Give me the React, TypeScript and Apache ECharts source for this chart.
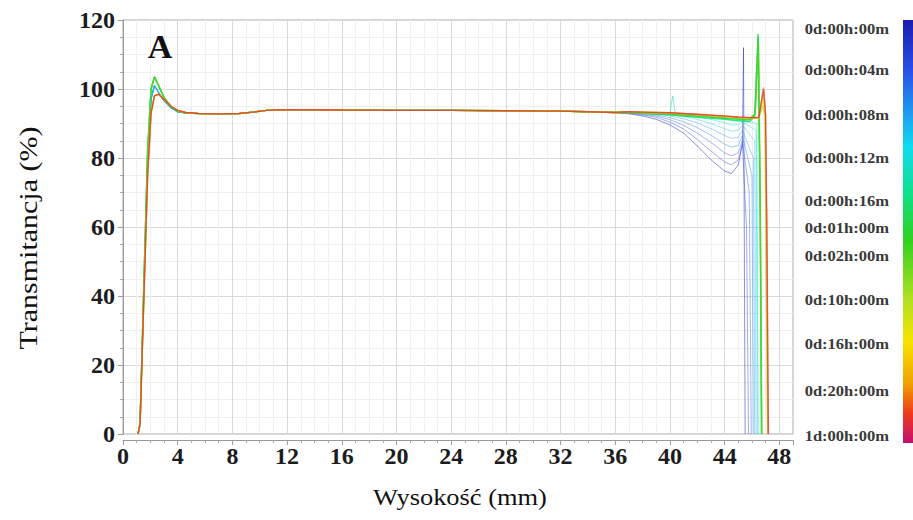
import React, { useEffect, useRef } from "react";
import * as echarts from "echarts";

// Shared rising edge and peak near the cell bottom (mm)
const headX = [1.1, 1.25, 1.5, 1.8, 2.05, 2.3, 2.6, 3.0, 3.5, 4.0, 4.6];
const headEarly = [0, 3, 38, 78, 97, 101, 99, 96.5, 94.5, 93.4, 93];
const headMid = [0, 3, 40, 82, 100, 103.5, 101, 97.5, 95, 93.6, 93];
const headLate = [0, 3, 36, 75, 93, 98, 98.5, 97, 95, 93.8, 93.2];

// Plateau common to all scans
const bodyX = [5.5, 7, 8.5, 9.5, 10.5, 11.5, 13, 16, 20, 24, 28, 32, 34, 36];
const bodyY = [92.9, 92.8, 92.9, 93.3, 93.8, 94.0, 94.0, 93.9, 93.8, 93.8, 93.7, 93.6, 93.4, 93.2];

// Top of the sample: clarification dip and meniscus, one list per scan [mm, %]
const tail00m: [number, number][] = [[37, 92.8], [38, 92.2], [39, 91.2], [40, 89.6], [41, 87.2], [42, 83.5], [43, 79.5], [44, 76.2], [44.5, 75.5], [45.0, 78], [45.3, 84], [45.38, 112], [45.5, 0]];
const tail02m: [number, number][] = [[37, 93], [38, 92.5], [39, 91.8], [40, 90.4], [41, 88.4], [42, 85.4], [43, 82], [44, 78.8], [44.5, 78], [45.0, 79.5], [45.3, 84], [45.6, 60], [45.75, 0]];
const tail04m: [number, number][] = [[37, 93], [38, 92.7], [39, 92.2], [40, 91.1], [41, 89.5], [42, 87.2], [43, 84.5], [44, 81.5], [44.5, 80.6], [45.0, 81.5], [45.3, 85], [45.8, 70], [45.95, 0]];
const tail06m: [number, number][] = [[37, 93.1], [38, 92.9], [39, 92.5], [40, 91.7], [41, 90.5], [42, 88.8], [43, 86.6], [44, 84], [44.5, 83.2], [45.0, 83.6], [45.3, 86.5], [46.0, 75], [46.1, 0]];
const tail08m: [number, number][] = [[37, 93.1], [38, 93], [39, 92.7], [40, 92.2], [41, 91.4], [42, 90.2], [43, 88.5], [44, 86.5], [44.5, 85.7], [45.0, 86], [45.3, 88], [46.1, 80], [46.2, 0]];
const tail10m: [number, number][] = [[37, 93.2], [38, 93.1], [39, 92.9], [40, 92.6], [41, 92.0], [42, 91.2], [43, 90], [44, 88.5], [44.5, 87.8], [45.0, 88], [45.3, 89.5], [46.2, 85], [46.3, 0]];
const tail12m: [number, number][] = [[37, 93.2], [38, 93.2], [39, 93], [40, 92.8], [41, 92.5], [42, 92], [43, 91.2], [44, 90.2], [44.5, 89.6], [45.0, 89.6], [45.3, 90.5], [46.3, 88], [46.4, 0]];
const tail14m: [number, number][] = [[37, 93.3], [38, 93.2], [39, 93.1], [40, 93], [40.2, 98], [40.4, 92.9], [41, 92.8], [42, 92.5], [43, 92], [44, 91.4], [44.5, 91], [45.0, 90.8], [45.3, 91], [46.35, 90], [46.45, 0]];
const tail16m: [number, number][] = [[37, 93.1], [38, 92.9], [40, 92.5], [42, 91.8], [44, 91.2], [45, 90.8], [45.8, 90.5], [46.2, 92], [46.45, 115], [46.6, 60], [46.7, 0]];
const tail1h: [number, number][] = [[37, 93.2], [38, 93], [40, 92.6], [42, 92.1], [44, 91.5], [45, 91.2], [45.8, 91], [46.2, 92.5], [46.45, 116], [46.6, 70], [46.7, 0]];
const tail2h: [number, number][] = [[37, 93.2], [38, 93.1], [40, 92.8], [42, 92.3], [44, 91.7], [45, 91.4], [45.8, 91.2], [46.25, 93], [46.48, 113], [46.62, 60], [46.72, 0]];
const tail6h: [number, number][] = [[37, 93.3], [38, 93.2], [40, 93], [42, 92.5], [44, 92], [45, 91.7], [46, 91.5], [46.5, 91.5], [46.8, 95], [46.95, 92], [47.05, 40], [47.15, 0]];
const tail10h: [number, number][] = [[37, 93.3], [38, 93.2], [40, 93], [42, 92.5], [44, 92], [45, 91.7], [46, 91.5], [46.5, 91.6], [46.8, 97], [46.95, 92], [47.05, 50], [47.15, 0]];
const tail16h: [number, number][] = [[37, 93.4], [38, 93.3], [40, 93.1], [42, 92.6], [44, 92.1], [45, 91.8], [46, 91.6], [46.5, 91.7], [46.82, 99], [46.97, 93], [47.07, 60], [47.17, 0]];
const tail20h: [number, number][] = [[37, 93.4], [38, 93.3], [40, 93.1], [42, 92.6], [44, 92.1], [45, 91.8], [46, 91.6], [46.5, 91.7], [46.84, 100.5], [46.98, 93], [47.08, 60], [47.18, 0]];
const tail24h: [number, number][] = [[37, 93.4], [38, 93.3], [40, 93.1], [42, 92.7], [44, 92.2], [45, 91.9], [46, 91.7], [46.5, 91.8], [46.85, 100], [47.0, 92.5], [47.1, 55], [47.2, 0]];

const scanNames = [
  "0d:00h:00m", "0d:00h:02m", "0d:00h:04m", "0d:00h:06m", "0d:00h:08m", "0d:00h:10m",
  "0d:00h:12m", "0d:00h:14m", "0d:00h:16m", "0d:01h:00m", "0d:02h:00m", "0d:06h:00m",
  "0d:10h:00m", "0d:16h:00m", "0d:20h:00m", "1d:00h:00m",
];
const scanHeads = [
  headEarly, headEarly, headEarly, headEarly, headEarly, headEarly, headEarly, headEarly,
  headMid, headMid, headMid, headLate, headLate, headLate, headLate, headLate,
];
const scanTails = [
  tail00m, tail02m, tail04m, tail06m, tail08m, tail10m, tail12m, tail14m,
  tail16m, tail1h, tail2h, tail6h, tail10h, tail16h, tail20h, tail24h,
];

// Colour-scale legend labels
const legendLabels = [
  "0d:00h:00m", "0d:00h:04m", "0d:00h:08m", "0d:00h:12m", "0d:00h:16m", "0d:01h:00m",
  "0d:02h:00m", "0d:10h:00m", "0d:16h:00m", "0d:20h:00m", "1d:00h:00m",
];

const xTicks = { min: 0, max: 49, step: 4 };
const yTicks = { min: 0, max: 120, step: 20 };

// ---- styling / layout ----
const SERIF = "'Liberation Serif', 'Times New Roman', serif";
const BAR = { x: 903, y: 20, w: 10, h: 423 };
const legendLabelY = [29, 70, 115, 158, 201, 228, 256, 300, 344, 391, 436];
const scanTone = [0.02, 0.07, 0.12, 0.17, 0.22, 0.26, 0.31, 0.36, 0.42, 0.49, 0.56, 0.64, 0.68, 0.78, 0.88, 0.97];
const scanOpacity = [0.5, 0.42, 0.42, 0.42, 0.42, 0.42, 0.45, 0.5, 0.85, 0.85, 0.85, 0.6, 0.6, 0.6, 0.6, 0.65];

const colorStops: [number, string][] = [
  [0, "#1c1cae"], [0.12, "#2850e8"], [0.22, "#1e9cf0"], [0.3, "#10dcf0"],
  [0.42, "#10e080"], [0.52, "#30d020"], [0.66, "#b0e020"], [0.76, "#f8e400"],
  [0.86, "#f0a000"], [0.93, "#f03a1c"], [1, "#c01070"],
];

function hexToRgb(h: string) {
  const n = parseInt(h.slice(1), 16);
  return [(n >> 16) & 255, (n >> 8) & 255, n & 255];
}
function sampleColor(t: number) {
  for (let i = 1; i < colorStops.length; i++) {
    const [p1, c1] = colorStops[i];
    const [p0, c0] = colorStops[i - 1];
    if (t <= p1) {
      const k = (t - p0) / (p1 - p0);
      const a = hexToRgb(c0);
      const b = hexToRgb(c1);
      const m = a.map((v, j) => Math.round(v + (b[j] - v) * k));
      return `rgb(${m[0]},${m[1]},${m[2]})`;
    }
  }
  return colorStops[colorStops.length - 1][1];
}

function buildSeries() {
  return scanNames.map((name, i) => {
    const head = scanHeads[i];
    const pts: [number, number][] = [];
    headX.forEach((x, j) => pts.push([x, head[j]]));
    bodyX.forEach((x, j) => pts.push([x, bodyY[j]]));
    scanTails[i].forEach((p) => pts.push([p[0], p[1]]));
    return {
      name,
      type: "line" as const,
      data: pts,
      showSymbol: false,
      symbol: "none",
      lineStyle: {
        width: i < 8 ? 1 : 1.4,
        color: sampleColor(scanTone[i]),
        opacity: scanOpacity[i],
      },
      silent: true,
      z: 2 + i,
    };
  });
}

export default function App() {
  const ref = useRef<HTMLDivElement>(null);

  useEffect(() => {
    if (!ref.current) return;
    const chart = echarts.init(ref.current, undefined, { renderer: "svg" });

    const legendTexts = legendLabels.map((label, i) => ({
      type: "text",
      x: 889,
      y: legendLabelY[i],
      scaleX: 1.18,
      z: 50,
      style: {
        text: label,
        align: "right",
        verticalAlign: "middle",
        font: `bold 14px ${SERIF}`,
        fill: "#3a3a3a",
      },
    }));

    chart.setOption({
      animation: false,
      backgroundColor: "#ffffff",
      grid: {
        left: 123,
        right: 120,
        top: 20,
        bottom: 86,
        show: true,
        borderColor: "#a8a8a8",
        borderWidth: 1,
        containLabel: false,
      },
      xAxis: {
        type: "value",
        min: xTicks.min,
        max: xTicks.max,
        interval: xTicks.step,
        offset: 6,
        axisLine: { show: true, onZero: false, lineStyle: { color: "#9a9a9a" } },
        axisTick: { show: true, length: 5, lineStyle: { color: "#9a9a9a" } },
        minorTick: { show: true, splitNumber: 4, length: 3, lineStyle: { color: "#a8a8a8" } },
        axisLabel: {
          fontFamily: SERIF,
          fontWeight: "bold",
          fontSize: 24,
          color: "#1c1c1c",
          margin: 4,
          showMaxLabel: false,
        },
        splitLine: { show: true, lineStyle: { color: "#d9d9d9" } },
        minorSplitLine: { show: true, lineStyle: { color: "#f0f0f0" } },
      },
      yAxis: {
        type: "value",
        min: yTicks.min,
        max: yTicks.max,
        interval: yTicks.step,
        axisLine: { show: true, lineStyle: { color: "#9a9a9a" } },
        axisTick: { show: true, length: 5, lineStyle: { color: "#9a9a9a" } },
        minorTick: { show: true, splitNumber: 4, length: 3, lineStyle: { color: "#a8a8a8" } },
        axisLabel: {
          fontFamily: SERIF,
          fontWeight: "bold",
          fontSize: 24,
          color: "#1c1c1c",
          margin: 8,
        },
        splitLine: { show: true, lineStyle: { color: "#d9d9d9" } },
        minorSplitLine: { show: true, lineStyle: { color: "#f0f0f0" } },
      },
      series: buildSeries(),
      graphic: [
        {
          type: "text",
          x: 160,
          y: 46,
          z: 50,
          style: {
            text: "A",
            align: "center",
            verticalAlign: "middle",
            font: `bold 34px ${SERIF}`,
            fill: "#111",
          },
        },
        {
          type: "text",
          x: 460,
          y: 497,
          scaleX: 1.15,
          style: {
            text: "Wysokość (mm)",
            align: "center",
            verticalAlign: "middle",
            font: `23px ${SERIF}`,
            fill: "#111",
          },
        },
        {
          type: "text",
          x: 28,
          y: 238,
          rotation: Math.PI / 2,
          scaleX: 1.2,
          style: {
            text: "Transmitancja (%)",
            align: "center",
            verticalAlign: "middle",
            font: `25px ${SERIF}`,
            fill: "#111",
          },
        },
        {
          type: "rect",
          shape: { x: BAR.x, y: BAR.y, width: BAR.w, height: BAR.h },
          style: {
            fill: new echarts.graphic.LinearGradient(
              0, 0, 0, 1,
              colorStops.map(([offset, color]) => ({ offset, color }))
            ),
          },
        },
        ...legendTexts,
      ],
    });

    return () => chart.dispose();
  }, []);

  return (
    <div
      ref={ref}
      style={{ position: "fixed", left: 0, top: 0, width: 913, height: 520 }}
    />
  );
}
